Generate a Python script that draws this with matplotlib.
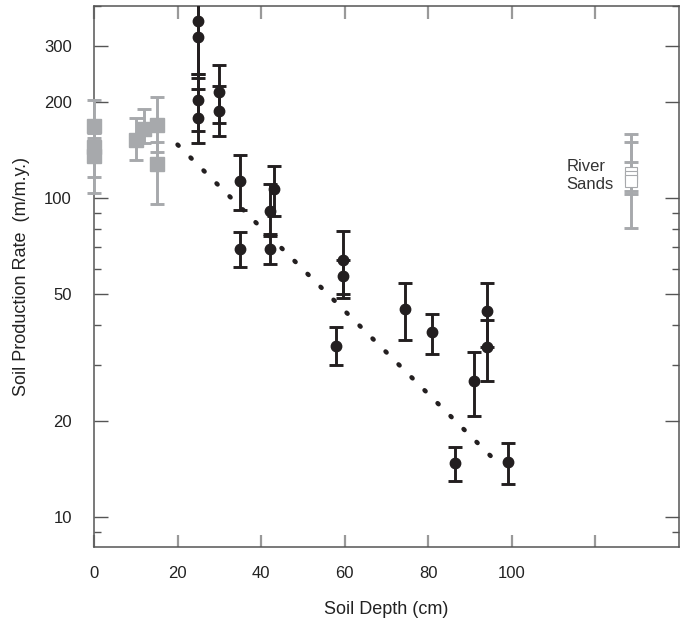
import numpy as np
import matplotlib.pyplot as plt

plt.rcParams['font.family'] = ['Liberation Sans', 'DejaVu Sans']

# gray squares (shallow soils)
gray_depth = [0, 0, 0, 10, 12, 15, 15]
gray_rate = [168, 145, 135, 152, 165, 170, 128]
gray_lo = [154, 116, 104, 132, 149, 139, 96]
gray_hi = [203, 175, 160, 178, 190, 207, 150]

# black circles
blk_depth = [25, 25, 25, 25, 30, 30, 35, 35, 42, 42, 43, 58, 59.5, 59.5,
             74.5, 81, 86.5, 91, 94, 94, 99]
blk_rate = [359, 320, 203, 178, 215, 187, 113, 69, 91, 69, 107, 34.4, 64, 57,
            45, 38, 14.8, 26.7, 44.3, 34, 14.9]
blk_lo = [245, 220, 162, 149, 172, 156, 92, 61, 77, 62, 88, 29.9, 50, 48.6,
          36, 32.4, 13, 20.8, 34, 26.7, 12.7]
blk_hi = [500, 450, 238, 245, 261, 225, 136, 78, 111, 76, 126, 39.5, 79, 64,
          54, 43.3, 16.6, 32.9, 54.1, 41.5, 17.1]

# river sands
river_depth = [128.5, 128.5, 128.5]
river_rate = [120, 116, 113]
river_lo = [103, 80.5, 105]
river_hi = [159, 150, 130]

# fitted trend (dotted)
fit_depth = [20, 95]
fit_rate = [147, 15.5]

xticks = [0, 20, 40, 60, 80, 100, 120]
xticklabels = ['0', '20', '40', '60', '80', '100', '']
yticks = [10, 20, 50, 100, 200, 300]

black = '#231f20'
gray = '#a7a9ac'

fig = plt.figure(figsize=(6.81, 6.21), dpi=100)
ax = fig.add_axes([94/681, (621-546.7)/621, (679-94)/681, (546.7-6)/621])

ax.plot(fit_depth, fit_rate, color=black, lw=3.3, linestyle=(0, (0.3, 3.7)),
        dash_capstyle='round', zorder=2)


def bars(x, y, lo, hi, ecol, clip=True, **kw):
    y = np.array(y)
    err = [y - np.array(lo), np.array(hi) - y]
    eb = ax.errorbar(x, y, yerr=err, fmt='none', ecolor=ecol, elinewidth=2.1,
                     capsize=5, capthick=2.1, zorder=3)
    for art in eb.lines[1] + eb.lines[2]:
        art.set_clip_on(clip)
    ax.plot(x, y, linestyle='none', zorder=4, clip_on=clip, **kw)


bars(gray_depth, gray_rate, gray_lo, gray_hi, gray, clip=False,
     marker='s', ms=9.5, color=gray, mec=gray)
bars(blk_depth, blk_rate, blk_lo, blk_hi, black,
     marker='o', ms=7.5, color=black, mec=black)
bars(river_depth, river_rate, river_lo, river_hi, gray,
     marker='s', ms=8.5, mfc='white', mec=gray, mew=0.8)

ax.text(113, 118, 'River\nSands', fontsize=12, ha='left', va='center',
        color='#333333', linespacing=1.25)

ax.set_yscale('log')
ax.set_xlim(0, 140)
ax.set_ylim(8.07, 400)
ax.set_xticks(xticks)
ax.set_xticklabels(xticklabels)
ax.set_yticks(yticks)
ax.set_yticklabels([str(t) for t in yticks])

for s in ax.spines.values():
    s.set_color('#555555')
    s.set_linewidth(1.1)

ax.tick_params(axis='x', direction='in', top=True, length=9, width=1.6,
               color='#999999', labelsize=12, pad=14, labelcolor='#222222')
ax.tick_params(axis='y', which='major', direction='in', right=True, length=10,
               width=1.0, color='#555555', labelsize=12, pad=16,
               labelcolor='#222222')
ax.tick_params(axis='y', which='minor', direction='in', right=True, length=5,
               width=1.0, color='#555555')
ax.yaxis.set_minor_formatter(plt.NullFormatter())

ax.set_xlabel('Soil Depth (cm)', fontsize=13, labelpad=14, color='#222222')
ax.set_ylabel('Soil Production Rate  (m/m.y.)', fontsize=13, labelpad=10,
              color='#222222')

fig.savefig('out.png', dpi=100)
